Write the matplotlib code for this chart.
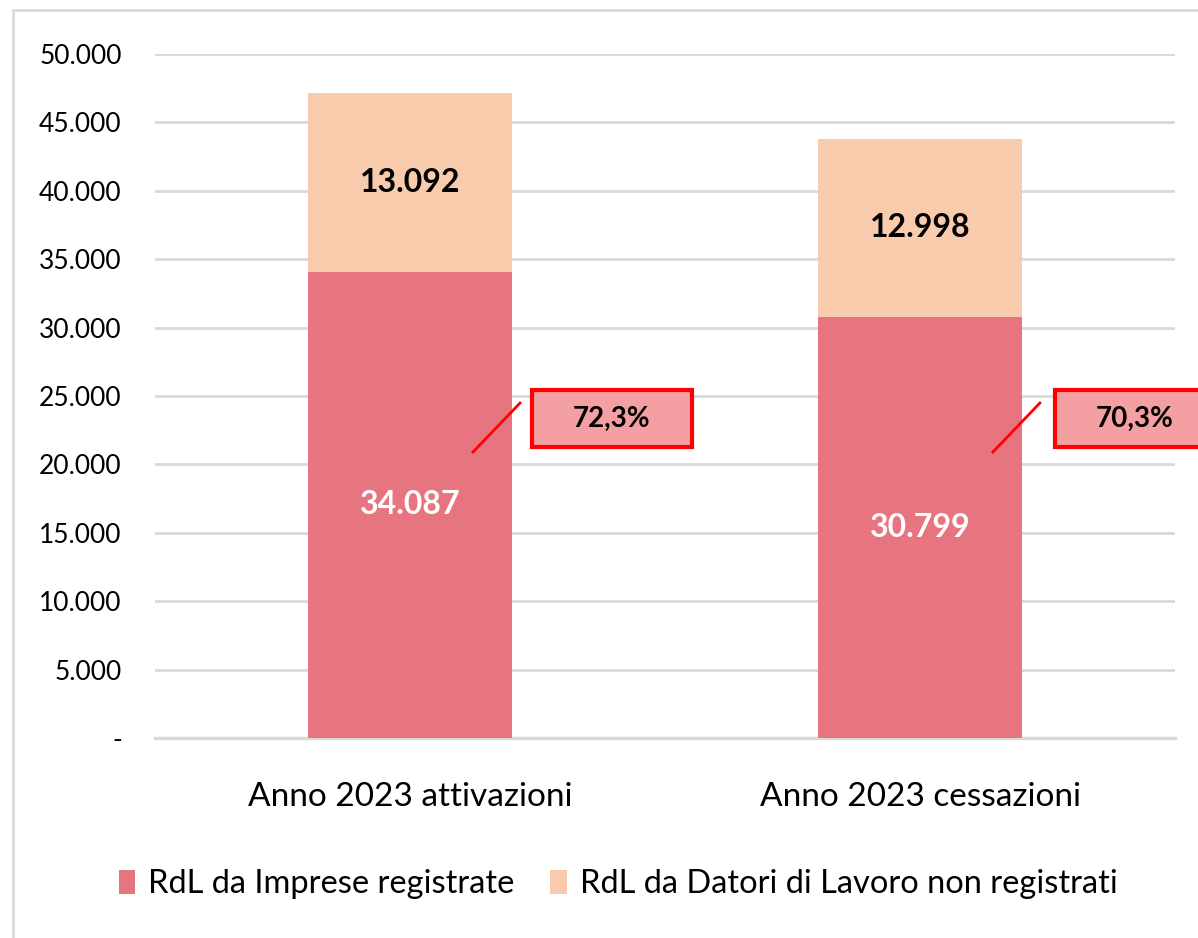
import matplotlib
matplotlib.use("Agg")
import matplotlib.pyplot as plt
from matplotlib.patches import Rectangle
from matplotlib.ticker import FuncFormatter

plt.rcParams['font.family'] = ['Lato', 'DejaVu Sans']

# data
categories = ["Anno 2023 attivazioni", "Anno 2023 cessazioni"]
imprese = [34087, 30799]
datori = [13092, 12998]
series_names = ["RdL da Imprese registrate", "RdL da Datori di Lavoro non registrati"]
yticks = list(range(0, 50001, 5000))

col_imp = '#E77580'
col_dat = '#F8CBAD'
grid_col = '#D9D9D9'


def it_fmt(v, pos=None):
    if v == 0:
        return "-"
    return f"{int(v):,}".replace(",", ".")


fig = plt.figure(figsize=(11.98, 9.38), dpi=100)
ax = fig.add_axes([0.1294, 0.2132, 0.8514, 0.7292])

x = list(range(len(categories)))
ax.bar(x, imprese, width=0.4, color=col_imp, label=series_names[0], zorder=3)
ax.bar(x, datori, width=0.4, bottom=imprese, color=col_dat, label=series_names[1], zorder=3)

# values inside the bars
for i in x:
    ax.text(i, imprese[i] / 2, it_fmt(imprese[i]), ha='center', va='center',
            color='white', fontsize=23, fontweight='bold', zorder=4)
    ax.text(i, imprese[i] + datori[i] / 2, it_fmt(datori[i]), ha='center', va='center',
            color='black', fontsize=23, fontweight='bold', zorder=4)

# share callouts
box_dx = [0.396, 0.4216]
line_dx = [(0.1235, 0.2157), (0.143, 0.235)]
for i in x:
    share = imprese[i] / (imprese[i] + datori[i]) * 100
    lbl = f"{share:.1f}%".replace(".", ",")
    cx = i + box_dx[i]
    cy = 23355
    ax.add_patch(Rectangle((cx - 0.157, cy - 2085), 0.314, 4170, facecolor='#F4A0A3',
                           edgecolor='red', lw=3, clip_on=False, zorder=5))
    ax.text(cx, cy, lbl, ha='center', va='center', fontsize=20, fontweight='bold',
            color='black', zorder=6, clip_on=False)
    ax.plot([i + line_dx[i][0], i + line_dx[i][1]], [20906, 24488], color='red',
            lw=2, zorder=5, clip_on=False)

ax.set_xlim(-0.5, 1.5)
ax.set_ylim(0, 50000)
ax.set_yticks(yticks)
ax.yaxis.set_major_formatter(FuncFormatter(it_fmt))
ax.set_xticks(x)
ax.set_xticklabels(categories)
ax.tick_params(axis='y', length=0, pad=24, labelsize=19)
ax.tick_params(axis='x', length=0, pad=32, labelsize=24)
ax.grid(axis='y', color=grid_col, lw=2, zorder=0)
for s in ['top', 'right', 'left']:
    ax.spines[s].set_visible(False)
ax.spines['bottom'].set_color(grid_col)
ax.spines['bottom'].set_linewidth(2.5)

fig.legend(loc='center', bbox_to_anchor=(0.516, 0.0576), ncol=2, frameon=False,
           fontsize=23.5, handlelength=0.5, handleheight=0.75, handletextpad=0.4,
           columnspacing=1.1)

# outer chart frame
fig.patches.append(Rectangle((0.0109, -0.1), 1.2, 1.0893, transform=fig.transFigure,
                             fill=False, edgecolor=grid_col, lw=2))

fig.savefig("out.png", dpi=100)
